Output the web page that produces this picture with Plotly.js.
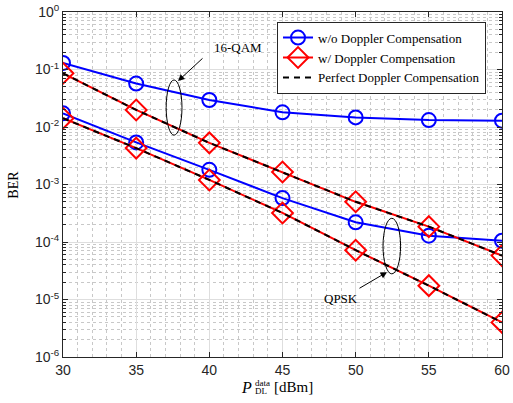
<!DOCTYPE html>
<html>
<head>
<meta charset="utf-8">
<script src="https://cdn.plot.ly/plotly-3.0.1.min.js"></script>
<style>html,body{margin:0;padding:0;background:#fff;}#chart{width:513px;height:403px;}</style>
</head>
<body>
<div id="chart"></div>
<script>
const power = [30, 35, 40, 45, 50, 55, 60];
const woComp16QAM = [0.13, 0.057, 0.0295, 0.018, 0.0147, 0.0132, 0.0129];
const wComp16QAM = [0.086, 0.0198, 0.0053, 0.00165, 0.0005, 0.000185, 0.000058];
const perfect16QAM = [0.086, 0.0198, 0.0053, 0.00165, 0.0005, 0.000185, 0.000058];
const woCompQPSK = [0.0173, 0.0054, 0.0018, 0.00058, 0.00022, 0.000129, 0.000105];
const wCompQPSK = [0.0142, 0.0043, 0.0012, 0.00032, 0.000072, 0.0000174, 0.000004];
const perfectQPSK = [0.0142, 0.0043, 0.0012, 0.00032, 0.000072, 0.0000174, 0.000004];
const seriesNames = ['w/o Doppler Compensation', 'w/ Doppler Compensation', 'Perfect Doppler Compensation'];
const yTickVals = [1e-6, 1e-5, 1e-4, 1e-3, 1e-2, 1e-1, 1];
const yTickText = ['10<sup>-6</sup>', '10<sup>-5</sup>', '10<sup>-4</sup>', '10<sup>-3</sup>', '10<sup>-2</sup>', '10<sup>-1</sup>', '10<sup>0</sup>'];
const xTickVals = [30, 35, 40, 45, 50, 55, 60];

const yMinorVals = [];
yTickVals.slice(0, 6).forEach(d => { for (let m = 2; m <= 9; m++) yMinorVals.push(d * m); });

const blue = {color: '#0000ff', width: 2};
const red = {color: '#ff0000', width: 2};
const circ = {symbol: 'circle-open', size: 14, color: '#0000ff', line: {width: 2, color: '#0000ff'}};
const dia = {symbol: 'diamond-open', size: 16, color: '#ff0000', line: {width: 2, color: '#ff0000'}};
const blk = {color: '#000000', width: 2, dash: '6px,5px'};

const traces = [
  {x: power, y: woComp16QAM, mode: 'lines+markers', name: seriesNames[0], line: blue, marker: circ, legendgroup: 'a'},
  {x: power, y: woCompQPSK, mode: 'lines+markers', name: seriesNames[0], line: blue, marker: circ, legendgroup: 'a', showlegend: false},
  {x: power, y: wComp16QAM, mode: 'lines+markers', name: seriesNames[1], line: red, marker: dia, legendgroup: 'b'},
  {x: power, y: wCompQPSK, mode: 'lines+markers', name: seriesNames[1], line: red, marker: dia, legendgroup: 'b', showlegend: false},
  {x: power, y: perfect16QAM, mode: 'lines', name: seriesNames[2], line: blk, legendgroup: 'c'},
  {x: power, y: perfectQPSK, mode: 'lines', name: seriesNames[2], line: blk, legendgroup: 'c', showlegend: false}
];

const tickFont = {family: 'Liberation Sans, Arial, sans-serif', size: 14, color: '#262626'};
const serif = '"Liberation Serif", "Times New Roman", serif';

function txt(x, y, text, size, extra) {
  return Object.assign({xref: 'paper', yref: 'paper', x: x, y: y, text: text, showarrow: false,
    xanchor: 'center', yanchor: 'middle', font: {family: serif, size: size, color: '#000'}}, extra || {});
}

const layout = {
  width: 513, height: 403,
  margin: {l: 63, r: 11, t: 12, b: 46},
  paper_bgcolor: '#ffffff', plot_bgcolor: '#ffffff',
  showlegend: true,
  legend: {x: 0.4875, y: 0.972, xanchor: 'left', yanchor: 'top', bgcolor: '#ffffff', bordercolor: '#262626', borderwidth: 1,
           font: {family: serif, size: 13, color: '#000'}, tracegroupgap: 0},
  xaxis: {
    range: [30, 60], tickvals: xTickVals, showline: true, mirror: 'allticks', linecolor: '#262626', linewidth: 1,
    ticks: 'inside', ticklen: 5, tickcolor: '#262626', tickfont: tickFont,
    showgrid: true, gridcolor: '#dedede', gridwidth: 1, zeroline: false,
    minor: {dtick: 1, tick0: 30, showgrid: true, gridcolor: '#c8c8c8', griddash: 'dot', ticks: ''}
  },
  yaxis: {
    type: 'log', range: [-6, 0], tickvals: yTickVals, ticktext: yTickText,
    showline: true, mirror: 'allticks', linecolor: '#262626', linewidth: 1,
    ticks: 'inside', ticklen: 5, tickcolor: '#262626', tickfont: tickFont,
    showgrid: true, gridcolor: '#dedede', gridwidth: 1, zeroline: false,
    minor: {tickvals: yMinorVals, showgrid: true, gridcolor: '#c8c8c8', griddash: 'dot', ticks: 'inside', ticklen: 3, tickcolor: '#262626'}
  },
  shapes: [
    {type: 'circle', xref: 'paper', yref: 'paper', x0: 0.235, x1: 0.271, y0: 0.643, y1: 0.803, line: {color: '#000', width: 1}},
    {type: 'circle', xref: 'paper', yref: 'paper', x0: 0.729, x1: 0.769, y0: 0.241, y1: 0.402, line: {color: '#000', width: 1}}
  ],
  annotations: [
    {xref: 'paper', yref: 'paper', x: 0.262, y: 0.80, ax: 26, ay: -24, text: '', showarrow: true, arrowhead: 2, arrowsize: 1.3, arrowwidth: 1, arrowcolor: '#000'},
    {xref: 'paper', yref: 'paper', x: 0.738, y: 0.246, ax: -29, ay: 17, text: '', showarrow: true, arrowhead: 2, arrowsize: 1.3, arrowwidth: 1, arrowcolor: '#000'},
    txt(0.399, 0.896, '16-QAM', 13),
    txt(0.633, 0.171, 'QPSK', 13),
    txt(-0.112, 0.499, 'BER', 14, {textangle: -90}),
    txt(0.417, -0.087, '<i>P</i>', 16),
    txt(0.455, -0.074, 'data', 9),
    txt(0.451, -0.099, 'DL', 9),
    txt(0.526, -0.087, '[dBm]', 15)
  ]
};

Plotly.newPlot('chart', traces, layout, {staticPlot: true, displayModeBar: false});
</script>
</body>
</html>
